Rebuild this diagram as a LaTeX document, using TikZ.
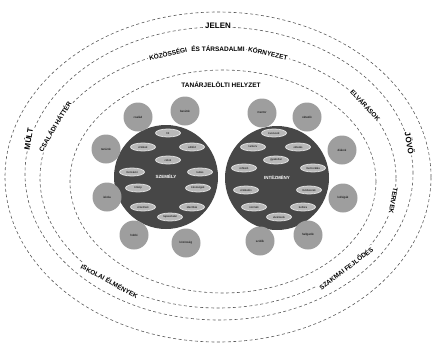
\documentclass[tikz,border=0pt]{standalone}
\usepackage{fontspec}
\setsansfont{Liberation Sans}
\usetikzlibrary{shapes.geometric}

\begin{document}
\begin{tikzpicture}[x=1bp,y=1bp,font=\sffamily,
	ring/.style={draw=black!65,line width=0.6pt,dash pattern=on 3pt off 2.5pt},
	core/.style={circle,fill=black!72,minimum size=104bp,inner sep=0pt,text=white,font=\sffamily\bfseries\fontsize{4.5}{5}\selectfont},
	sat/.style={circle,fill=black!38,minimum size=29bp,inner sep=0pt,font=\sffamily\fontsize{3}{3.5}\selectfont},
	ov/.style={ellipse,fill=black!28,draw=black!12,line width=0.8pt,minimum width=25bp,minimum height=8bp,inner sep=0pt,font=\sffamily\fontsize{2.8}{3}\selectfont},
	era/.style={fill=white,inner sep=1.5pt,font=\sffamily\bfseries\fontsize{8}{8}\selectfont},
	lbl/.style={fill=white,inner sep=1pt,font=\sffamily\bfseries\fontsize{6.5}{6.5}\selectfont}]
	\useasboundingbox (0,0) rectangle (436,344);
	\draw[ring] (218,167) ellipse[x radius=213,y radius=165];
	\draw[ring] (219,170.5) ellipse[x radius=194,y radius=146.5];
	\draw[ring] (218,166) ellipse[x radius=178,y radius=130];
	\draw[ring] (223,162.5) ellipse[x radius=153,y radius=111.5];
	\node[era] (jelen) at (218,318) {JELEN};
	\node[era,rotate=80] (mult) at (28,205) {MÚLT};
	\node[era,rotate=-80] (jovo) at (410,201) {JÖVŐ};
	\node[lbl,rotate=12.8,inner sep=1.5pt] (kozossegi) at (168,290.5) {KÖZÖSSÉGI};
	\node[lbl,inner sep=1.5pt] (tarsadalmi) at (218,295.5) {ÉS TÁRSADALMI};
	\node[lbl,rotate=-12.8,inner sep=1.5pt] (kornyezet) at (268,290.5) {KÖRNYEZET};
	\node[lbl,rotate=59] (csalad) at (54.8,217.8) {CSALÁDI HÁTTÉR};
	\node[lbl,rotate=-47] (elvarasok) at (365.6,238.7) {ELVÁRÁSOK};
	\node[lbl,rotate=-100] (tervek) at (393.3,143.4) {TERVEK};
	\node[lbl,rotate=-29] (iskolai) at (109.6,62.9) {ISKOLAI ÉLMÉNYEK};
	\node[lbl,rotate=37] (szakmai) at (346,75.7) {SZAKMAI FEJLŐDÉS};
	\node[lbl] (helyzet) at (221,259) {TANÁRJELÖLTI HELYZET};
	\node[core] (szemely) at (166,167) {SZEMÉLY};
	\node[core] (intezmeny) at (277,166) {INTÉZMÉNY};
	\foreach \n/\x/\y/\name in {1/138/227/család,2/185/233/barátok,3/106/195/tanárok,
		4/107/147/iskola,5/134/109/hobbi,6/186/101/közösség}
		\node[sat] (ls\n) at (\x,\y) {\name};
	\foreach \n/\x/\y/\name in {1/262/231/mentor,2/307/227/oktatók,3/342/194/diákok,
		4/343/146/kollégák,5/260/103/szülők,6/308/109/hallgatók}
		\node[sat] (rs\n) at (\x,\y) {\name};
	\foreach \n/\x/\y/\name in {1/168/211/hit,2/143/197/értékek,3/192/197/attitűd,
		4/168/184/célok,5/132/172/motiváció,6/200/172/tudás,7/138/156/önkép,
		8/198/156/készségek,9/143/137/érzelmek,10/192/137/identitás,11/170/127/tapasztalat}
		\node[ov] (lo\n) at (\x,\y) {\name};
	\foreach \n/\x/\y/\name in {1/274/211/kurzusok,2/253/197/tanterv,3/298/197/oktatás,
		4/276/184/gyakorlat,5/244/176/reflexió,6/313/176/mentorálás,7/246/154/értékelés,
		8/309/154/módszerek,9/254/137/normák,10/303/137/kultúra,11/279/127/elvárások}
		\node[ov] (ro\n) at (\x,\y) {\name};
\end{tikzpicture}
\end{document}
